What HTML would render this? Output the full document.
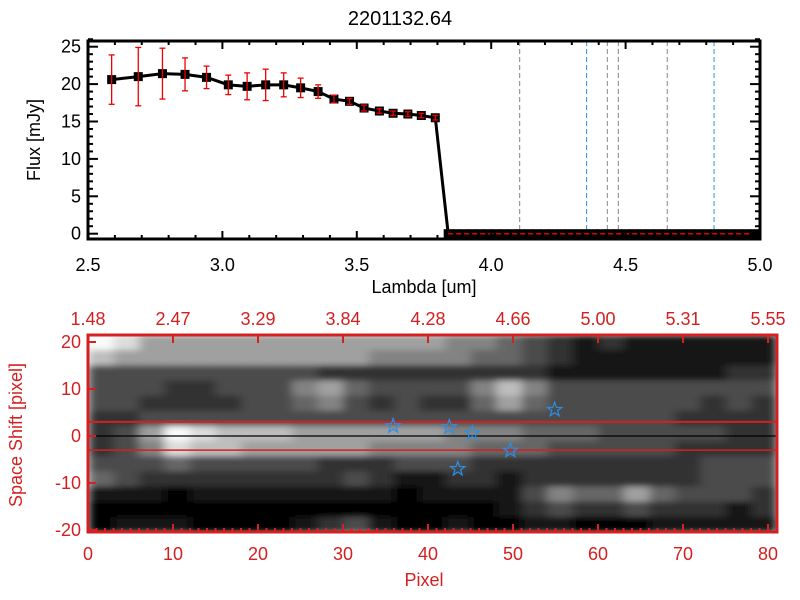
<!DOCTYPE html>
<html><head><meta charset="utf-8"><style>
html,body{margin:0;padding:0;background:#fff;}
svg{display:block;font-family:"Liberation Sans",sans-serif;}
</style></head><body>
<svg id="c" width="800" height="600" viewBox="0 0 800 600">
<defs>
<filter id="bl" x="0" y="0" width="1" height="1"><feGaussianBlur stdDeviation="5 3" edgeMode="duplicate"/></filter>
<clipPath id="cp"><rect x="88" y="335" width="689" height="197"/></clipPath>
</defs>
<text x="400" y="25" font-size="20" text-anchor="middle">2201132.64</text>
<g id="top"></g>
<g id="bot"></g>
</svg>
<script>
// ---- spectrum data ----
const lambdas = [2.588,2.687,2.777,2.861,2.941,3.022,3.092,3.161,3.228,3.291,3.356,3.415,3.473,3.527,3.584,3.635,3.690,3.740,3.792];
const fluxes = [20.6,21.0,21.4,21.3,20.9,19.9,19.7,19.9,19.9,19.5,19.0,18.0,17.7,16.8,16.4,16.1,16.0,15.8,15.5];
const errors = [3.3,3.9,3.4,2.2,1.5,1.3,1.8,2.1,1.6,1.3,0.9,0.5,0.4,0.4,0.3,0.3,0.3,0.3,0.3];
const zeroLambdas = [3.84,3.87,3.90,3.93,3.96,3.99,4.02,4.05,4.08,4.11,4.14,4.17,4.20,4.23,4.26,4.29,4.32,4.35,4.38,4.41,4.44,4.47,4.50,4.53,4.56,4.59,4.62,4.65,4.68,4.71,4.74,4.77,4.80,4.83,4.86,4.89,4.92,4.95,4.98];
const grayLines = [4.106,4.432,4.473,4.655];
const blueLines = [4.355,4.829];
const xTicks = [2.5,3.0,3.5,4.0,4.5,5.0];
const xTickLabels = ["2.5","3.0","3.5","4.0","4.5","5.0"];
const yTicks = [0,5,10,15,20,25];
// ---- image data ----
const pixTicks = [0,10,20,30,40,50,60,70,80];
const waveLabels = ["1.48","2.47","3.29","3.84","4.28","4.66","5.00","5.31","5.55"];
const shiftTicks = [-20,-10,0,10,20];
const starPix = [35.9,42.5,45.2,49.7,43.5,54.9];
const starShift = [2.1,1.9,0.6,-3.1,-7.0,5.6];
const img = [
[9,8,6,6,6,6,6,6,6,6,6,6,6,6,5,5,4,3,2,1,2,1,1,1,1,1,1],
[7,6,6,6,6,6,6,6,6,6,6,5,5,5,5,4,4,3,2,1,1,1,1,1,1,1,1],
[3,3,3,3,3,3,3,3,3,2,2,2,2,2,2,2,2,2,1,1,1,1,1,1,1,2,2],
[3,3,3,2,2,3,3,3,5,6,4,3,3,3,3,5,7,5,3,3,3,3,3,3,3,3,3],
[3,3,2,2,2,2,3,3,4,5,3,2,3,2,2,4,6,4,3,3,3,3,3,3,2,3,2],
[2,2,3,3,3,3,3,3,3,3,3,3,3,3,3,3,3,3,3,3,3,3,3,2,2,2,2],
[2,3,6,9,8,7,7,7,6,6,6,6,6,6,5,5,5,4,4,4,3,3,3,3,3,2,2],
[2,3,5,8,7,7,6,6,6,6,6,5,5,5,5,4,4,4,3,3,3,3,3,2,2,2,2],
[3,3,3,4,3,3,3,3,3,2,2,2,3,3,3,2,2,2,2,2,2,2,2,2,3,3,3],
[4,3,2,2,2,2,2,2,2,2,3,2,1,1,2,2,1,2,2,2,2,2,2,2,3,3,3],
[1,1,1,0,1,1,1,1,1,1,1,1,0,1,1,1,1,3,5,4,4,6,4,3,3,3,2],
[0,0,0,0,0,0,0,0,0,0,0,0,0,0,0,0,1,2,3,2,2,3,2,2,2,1,2],
[0,1,1,1,0,0,0,0,1,2,3,1,0,0,1,0,0,1,1,0,0,0,1,1,1,1,1]
];
const NS="http://www.w3.org/2000/svg";
function mk(p,t,a,txt){const e=document.createElementNS(NS,t);for(const k in a)e.setAttribute(k,a[k]);if(txt!==undefined)e.textContent=txt;p.appendChild(e);return e;}
// top axes
const T=document.getElementById('top');
const L=88,R=760,TT=41,TB=239;
const sx=v=>L+(v-2.5)*268.8;
const sy=v=>233.7-v*7.48;
grayLines.forEach(v=>{const e=mk(T,'line',{x1:sx(v),x2:sx(v),y1:TT,y2:TB,stroke:'#888','stroke-width':1,'stroke-dasharray':'5,3'});

});
blueLines.forEach(v=>{const e=mk(T,'line',{x1:sx(v),x2:sx(v),y1:TT,y2:TB,stroke:'#2a8fe8','stroke-width':1,'stroke-dasharray':'5,3'});

});
const allX=lambdas.concat(zeroLambdas), allY=fluxes.concat(zeroLambdas.map(()=>0));
const ln=mk(T,'polyline',{points:allX.map((x,i)=>sx(x)+','+sy(allY[i])).join(' '),fill:'none',stroke:'#000','stroke-width':3});


allX.forEach((x,i)=>{const e=mk(T,'rect',{x:sx(x)-4.5,y:sy(allY[i])-4.5,width:9,height:9,fill:'#000'});

});
const zl=mk(T,'line',{x1:sx(zeroLambdas[0]),x2:R,y1:sy(0),y2:sy(0),stroke:'#e00','stroke-width':1.5,'stroke-dasharray':'5,3'});


lambdas.forEach((x,i)=>{const g=mk(T,'g',{stroke:'#e00','stroke-width':1.3});


const y1=Math.max(sy(fluxes[i]+errors[i]),TT),y2=sy(fluxes[i]-errors[i]);
mk(g,'line',{x1:sx(x),x2:sx(x),y1:y1,y2:y2});
mk(g,'line',{x1:sx(x)-3,x2:sx(x)+3,y1:y1,y2:y1});
mk(g,'line',{x1:sx(x)-3,x2:sx(x)+3,y1:y2,y2:y2});});
mk(T,'rect',{x:L,y:TT,width:R-L,height:TB-TT,fill:'none',stroke:'#000','stroke-width':3,});
for(let v=2.5;v<=5.001;v+=0.1){const big=Math.abs(v*2-Math.round(v*2))<1e-6;const h=big?8:4;
mk(T,'line',{x1:sx(v),x2:sx(v),y1:TB,y2:TB-h,stroke:'#000','stroke-width':2});mk(T,'line',{x1:sx(v),x2:sx(v),y1:TT,y2:TT+h,stroke:'#000','stroke-width':2});}
for(let v=0;v<=26;v+=1){const big=v%5===0;const h=big?10:5;mk(T,'line',{x1:L,x2:L+h,y1:sy(v),y2:sy(v),stroke:'#000','stroke-width':2});mk(T,'line',{x1:R,x2:R-h,y1:sy(v),y2:sy(v),stroke:'#000','stroke-width':2});}
xTicks.forEach((v,i)=>{const e=mk(T,'text',{x:sx(v),y:271,'font-size':18,'text-anchor':'middle'},xTickLabels[i]);

});
yTicks.forEach(v=>{const e=mk(T,'text',{x:81,y:sy(v)+6,'font-size':18,'text-anchor':'end'},String(v));

});
mk(T,'text',{x:424,y:293,'font-size':18,'text-anchor':'middle',},'Lambda [um]');
mk(T,'text',{x:40,y:140,'font-size':18,'text-anchor':'middle',transform:'rotate(-90 40 140)',},'Flux [mJy]');
// bottom image
const B=document.getElementById('bot');
const BL=88,BR=777,BT=335,BB=532,RED='#d42020';
const px=v=>BL+v*8.5;
const py=v=>436-v*4.7;
const cw=(BR-BL)/img[0].length,ch=(BB-BT)/img.length;
const clipG=mk(B,'g',{'clip-path':'url(#cp)'});
const hm=mk(clipG,'g',{filter:'url(#bl)'});


img.forEach((row,r)=>row.forEach((v,c)=>{const g=Math.round(Math.pow(v/9,1.1)*250);const e=mk(hm,'rect',{x:BL+c*cw,y:BT+r*ch,width:cw+0.6,height:ch+0.6,fill:`rgb(${g},${g},${g})`});

}));
[[3,RED,2],[-3,RED,1.5],[0,'#000',1.2]].forEach(a=>{const e=mk(B,'line',{x1:BL,x2:BR,y1:py(a[0]),y2:py(a[0]),stroke:a[1],'stroke-width':a[2]});

});
starPix.forEach((p,i)=>{const cx=px(p),cy=py(starShift[i]);let pts=[];for(let k=0;k<10;k++){const a=-Math.PI/2+k*Math.PI/5,rr=k%2?3:7.5;pts.push((cx+rr*Math.cos(a)).toFixed(1)+','+(cy+rr*Math.sin(a)).toFixed(1));}
const e=mk(B,'polygon',{points:pts.join(' '),fill:'none',stroke:'#2a8fe8','stroke-width':1.2});

});
mk(B,'rect',{x:BL,y:BT,width:BR-BL,height:BB-BT,fill:'none',stroke:RED,'stroke-width':3,});
for(let v=0;v<=81;v++){const h=v%10===0?8:4;mk(B,'line',{x1:px(v),x2:px(v),y1:BB,y2:BB-h,stroke:RED,'stroke-width':2});if(v%10===0)mk(B,'line',{x1:px(v),x2:px(v),y1:BT,y2:BT+8,stroke:RED,'stroke-width':2});}
shiftTicks.forEach(v=>{mk(B,'line',{x1:BL,x2:BL+8,y1:py(v),y2:py(v),stroke:RED,'stroke-width':2});
const e=mk(B,'text',{x:81,y:py(v)+6,'font-size':18,'text-anchor':'end',fill:RED},String(v));

});
pixTicks.forEach((v,i)=>{const e=mk(B,'text',{x:px(v),y:560,'font-size':18,'text-anchor':'middle',fill:RED},String(v));


const w=mk(B,'text',{x:px(v),y:325,'font-size':18,'text-anchor':'middle',fill:RED},waveLabels[i]);

});
mk(B,'text',{x:424,y:586,'font-size':18,'text-anchor':'middle',fill:RED,},'Pixel');
mk(B,'text',{x:22,y:435,'font-size':18,'text-anchor':'middle',fill:RED,transform:'rotate(-90 22 435)',},'Space Shift [pixel]');
</script>
</body></html>
